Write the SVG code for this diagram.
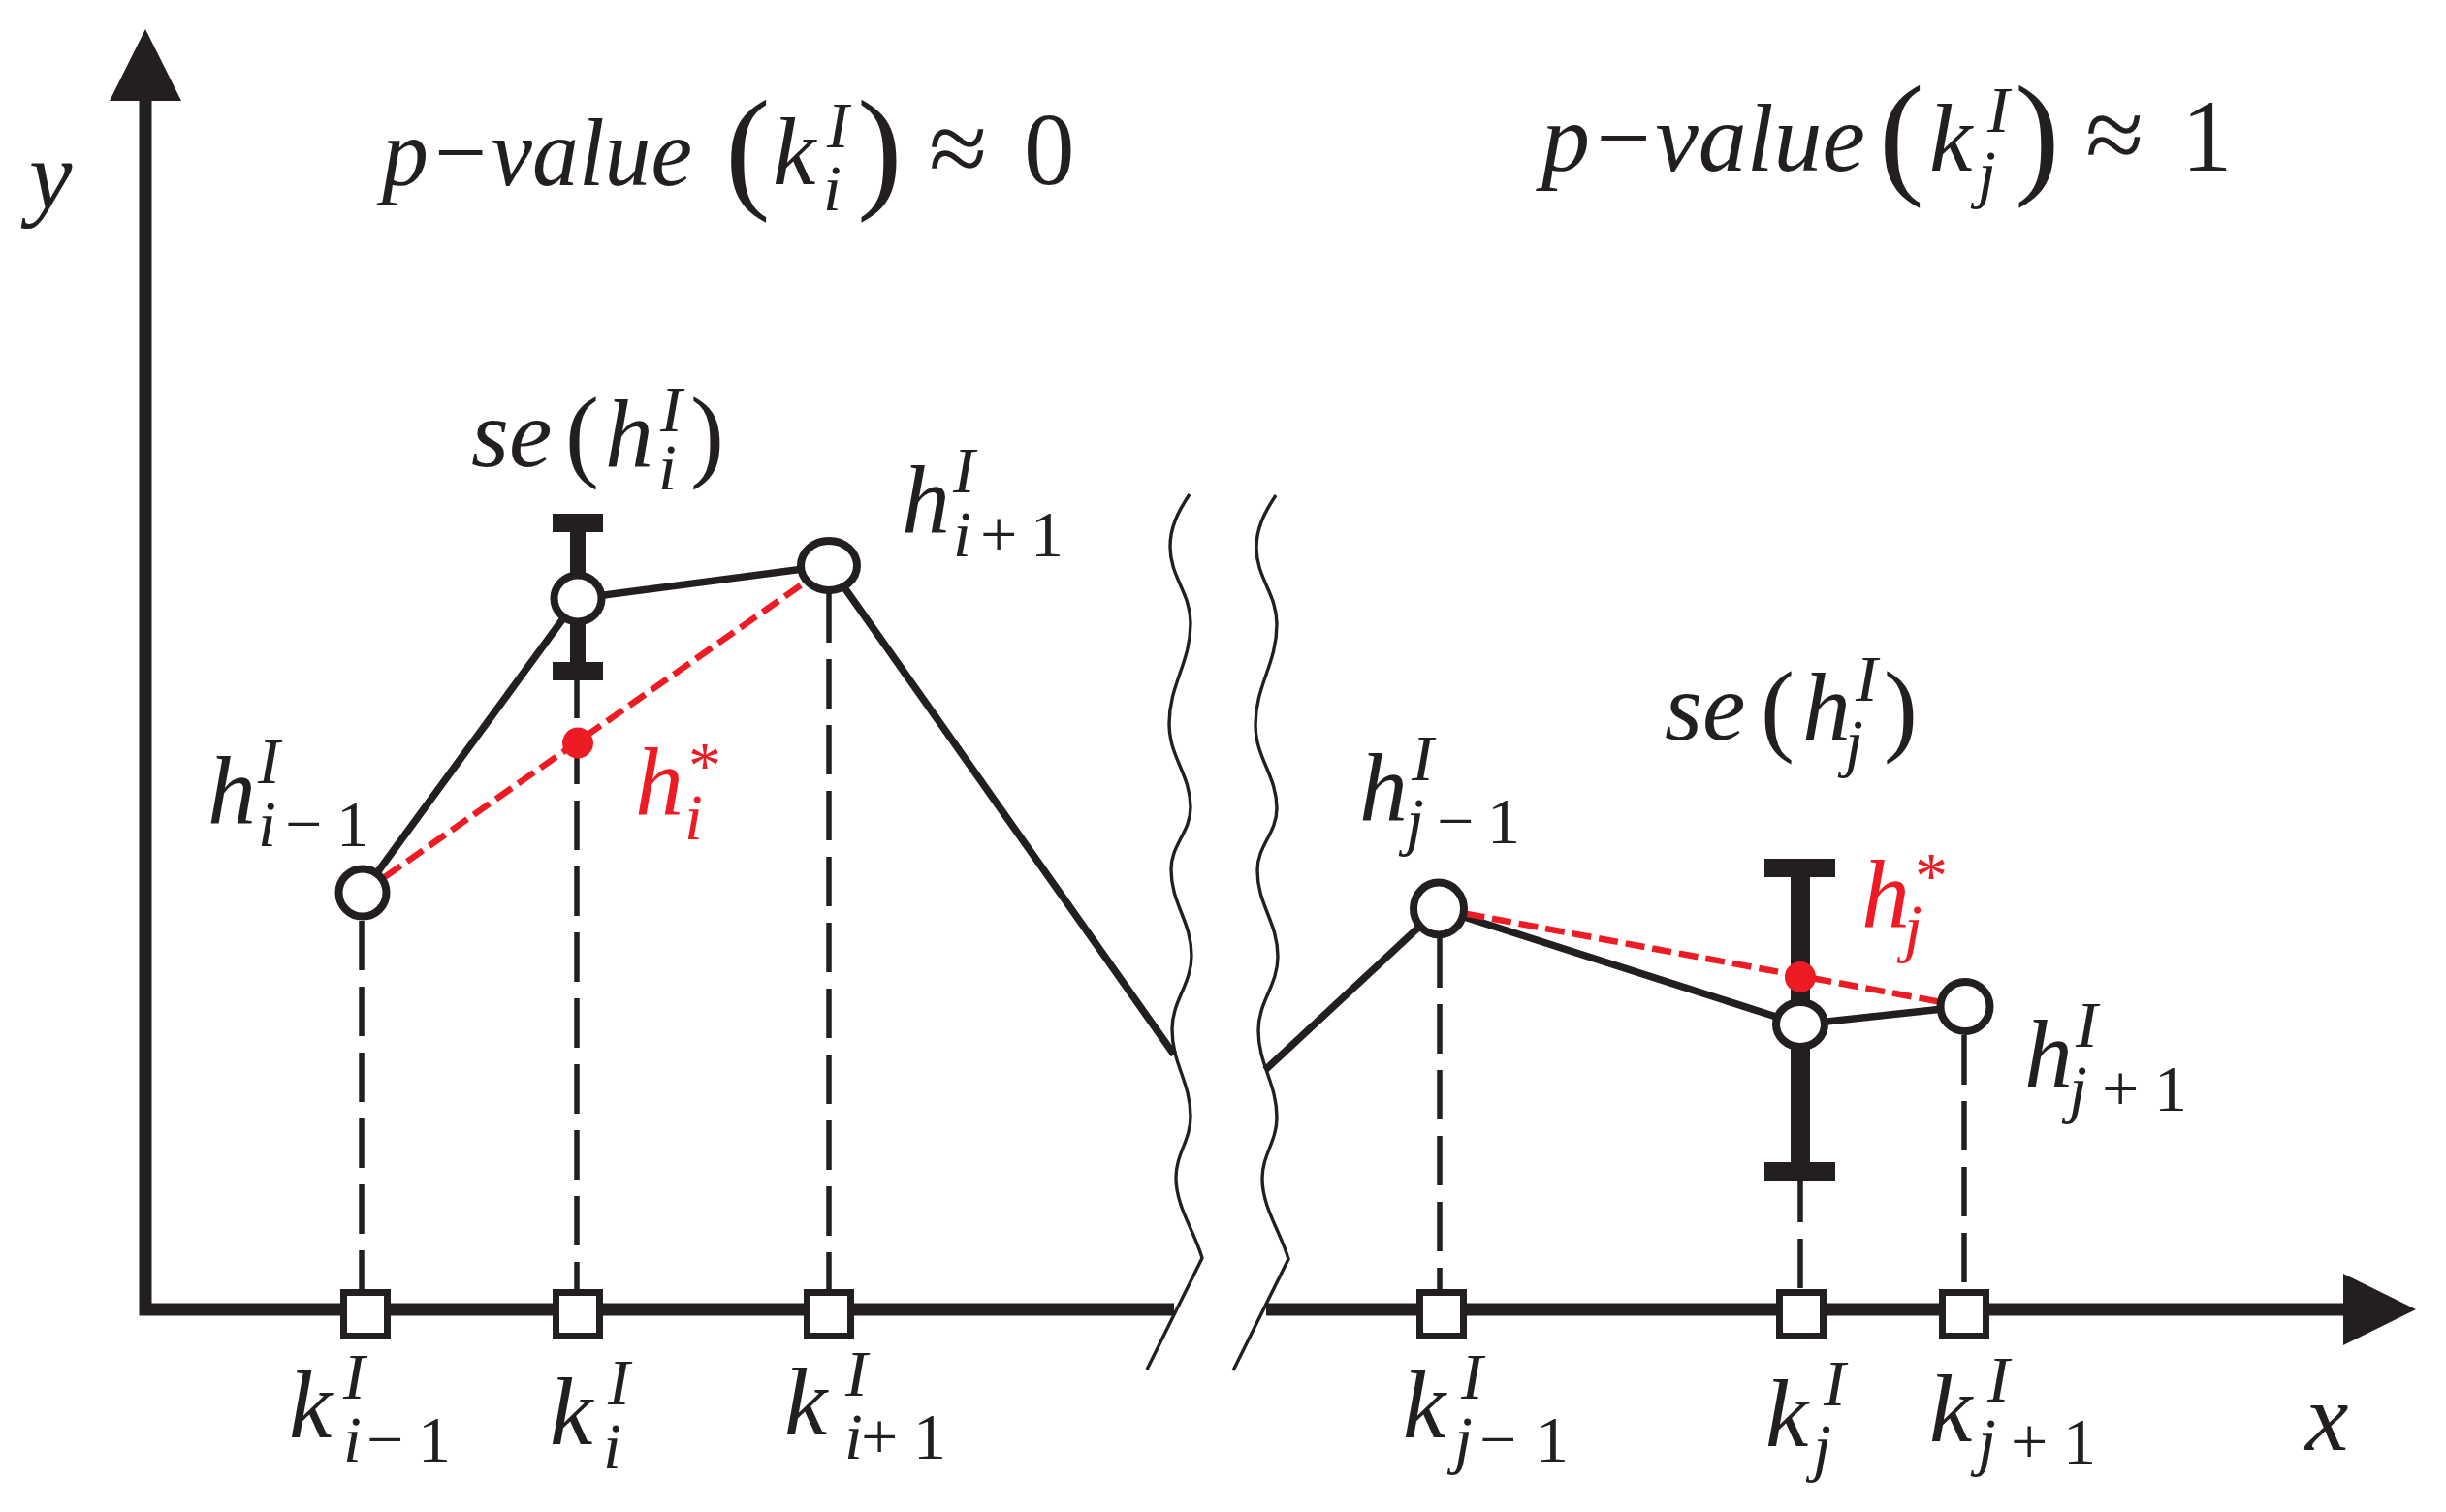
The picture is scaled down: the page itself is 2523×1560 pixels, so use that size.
<svg xmlns="http://www.w3.org/2000/svg" xmlns:xlink="http://www.w3.org/1999/xlink" width="2523" height="1560" viewBox="0 0 2523 1560">
<style>
.t{font-family:"Liberation Serif","Times New Roman",serif;font-style:italic;font-size:100px;fill:#231f20}
.s{font-size:68px}
.u{font-style:normal}
.r{fill:#ed1c24}
.ax{fill:none;stroke:#231f20;stroke-width:13;stroke-linejoin:miter}
.ln{fill:none;stroke:#231f20;stroke-width:7.5;stroke-linecap:butt}
.dl{fill:none;stroke:#231f20;stroke-width:5.5;stroke-dasharray:51 17}
.rd{fill:none;stroke:#ed1c24;stroke-width:6.5;stroke-dasharray:20 8}
.nd{fill:#fff;stroke:#231f20;stroke-width:8}
.sq{fill:#fff;stroke:#231f20;stroke-width:7}
.wv{fill:none;stroke:#231f20;stroke-width:3.4;stroke-linejoin:miter}
.bk{fill:#231f20}
.dot{fill:#ed1c24}
</style>
<defs>
<path id="wave" d="M1227,510 C1215,528 1207,544 1207,564 C1207,596 1228,611 1228,643 C1228,684 1206,706 1206,747 C1206,781 1228,799 1228,833 C1228,859 1208,871 1208,897 C1208,933 1229,950 1229,986 C1229,1016 1209,1032 1209,1062 C1209,1098 1228,1116 1228,1152 C1228,1177 1213,1190 1213,1215 C1213,1245 1232,1270 1240,1298 L1183,1413"/>
</defs>
<rect width="2523" height="1560" fill="#fff"/>
<g id="axes">
<path class="ax" d="M150,100 L150,1351 L1211,1351"/>
<path class="ax" d="M1306,1351 L2420,1351"/>
<polygon class="bk" points="113,104 150,30 187,104"/>
<polygon class="bk" points="2417,1314 2492,1351 2417,1388"/>
<use xlink:href="#wave" class="wv"/>
<use xlink:href="#wave" class="wv" x="89" y="1"/>
</g>
<g id="connectors">
<line class="dl" x1="373" y1="950" x2="373" y2="1334"/>
<line class="dl" x1="595" y1="690" x2="595" y2="1334"/>
<line class="dl" x1="855" y1="612" x2="855" y2="1334"/>
<line class="dl" x1="1485" y1="968" x2="1485" y2="1334"/>
<line class="dl" x1="1857" y1="1210" x2="1857" y2="1334"/>
<line class="dl" x1="2026" y1="1068" x2="2026" y2="1334"/>
<polyline class="ln" points="374,921 596,617.5 855,583.5 1211,1088"/>
<polyline class="ln" points="1305,1104 1484,937.5 1857,1057 2027,1038.5"/>
<line class="rd" x1="374" y1="921" x2="855" y2="583.5"/>
<line class="rd" x1="1484" y1="937.5" x2="2027" y2="1038.5"/>
</g>
<g id="errorbar-i">
<rect class="bk" x="570" y="530" width="52" height="19"/>
<rect class="bk" x="588" y="549" width="16" height="134"/>
<rect class="bk" x="570" y="683" width="52" height="19"/>
</g>
<g id="errorbar-j">
<rect class="bk" x="1820" y="886" width="73" height="19"/>
<rect class="bk" x="1847" y="905" width="20" height="294"/>
<rect class="bk" x="1820" y="1199" width="73" height="19"/>
</g>
<g id="node-h-im1"><ellipse class="nd" cx="374" cy="921" rx="24.5" ry="24.5"/></g>
<g id="node-h-i"><ellipse class="nd" cx="596" cy="617.5" rx="24.5" ry="24"/></g>
<g id="node-h-ip1"><ellipse class="nd" cx="855" cy="583.5" rx="29" ry="25.5"/></g>
<g id="node-h-jm1"><ellipse class="nd" cx="1484" cy="937.5" rx="26" ry="27"/></g>
<g id="node-h-j"><ellipse class="nd" cx="1857" cy="1057" rx="25" ry="23"/></g>
<g id="node-h-jp1"><ellipse class="nd" cx="2027" cy="1038.5" rx="25.5" ry="25.5"/></g>
<g id="node-hstar-i"><circle class="dot" cx="596" cy="766.5" r="16"/></g>
<g id="node-hstar-j"><circle class="dot" cx="1857" cy="1008" r="16"/></g>
<g id="node-k-im1"><rect class="sq" x="354.5" y="1333.5" width="45" height="45"/></g>
<g id="node-k-i"><rect class="sq" x="573.5" y="1333.5" width="45" height="45"/></g>
<g id="node-k-ip1"><rect class="sq" x="832.5" y="1333.5" width="45" height="45"/></g>
<g id="node-k-jm1"><rect class="sq" x="1464.5" y="1333.5" width="45" height="45"/></g>
<g id="node-k-j"><rect class="sq" x="1835.5" y="1333.5" width="45" height="45"/></g>
<g id="node-k-jp1"><rect class="sq" x="2003.5" y="1333.5" width="45" height="45"/></g>
<g id="labels">
<text class="t" x="30" y="215">y</text>
<text class="t" x="2378" y="1496">x</text>
<g id="title-left">
<text class="t" x="394" y="191" textLength="320" lengthAdjust="spacingAndGlyphs">p−value</text>
<text class="t u" x="748" y="200" style="font-size:140px">(</text>
<text class="t" x="797" y="190">k</text>
<text class="t s" x="853" y="152">I</text>
<text class="t s" x="849" y="217">i</text>
<text class="t u" x="884" y="200" style="font-size:140px">)</text>
<text class="t u" x="958" y="190" style="font-size:110px">≈</text>
<text class="t u" x="1056" y="190" style="font-size:105px">0</text>
</g>
<g id="title-right">
<text class="t" x="1590" y="176" textLength="334" lengthAdjust="spacingAndGlyphs">p−value</text>
<text class="t u" x="1938" y="185" style="font-size:140px">(</text>
<text class="t" x="1990" y="176">k</text>
<text class="t s" x="2050" y="136">I</text>
<text class="t s" x="2040" y="202">j</text>
<text class="t u" x="2078" y="185" style="font-size:140px">)</text>
<text class="t u" x="2151" y="176" style="font-size:110px">≈</text>
<text class="t u" x="2250" y="176" style="font-size:105px">1</text>
</g>
<g id="label-se-i">
<text class="t" x="486" y="481">se</text>
<text class="t u" x="583" y="483" style="font-size:105px">(</text>
<text class="t" x="624" y="481">h</text>
<text class="t s" x="681" y="445">I</text>
<text class="t s" x="679" y="505">i</text>
<text class="t u" x="712" y="483" style="font-size:105px">)</text>
</g>
<g id="label-se-j">
<text class="t" x="1717" y="763">se</text>
<text class="t u" x="1816" y="766" style="font-size:105px">(</text>
<text class="t" x="1859" y="763">h</text>
<text class="t s" x="1914" y="723">I</text>
<text class="t s" x="1903" y="789">j</text>
<text class="t u" x="1943" y="766" style="font-size:105px">)</text>
</g>
<g id="label-h-im1">
<text class="t" x="214" y="849">h</text>
<text class="t s" x="266" y="808">I</text>
<text class="t s" x="266" y="873">i</text>
<text class="t s u" x="294" y="873">−</text>
<text class="t s u" x="347" y="873">1</text>
</g>
<g id="label-h-ip1">
<text class="t" x="930" y="549">h</text>
<text class="t s" x="983" y="508">I</text>
<text class="t s" x="983" y="574">i</text>
<text class="t s u" x="1011" y="574">+</text>
<text class="t s u" x="1063" y="574">1</text>
</g>
<g id="label-h-jm1">
<text class="t" x="1402" y="846">h</text>
<text class="t s" x="1456" y="805">I</text>
<text class="t s" x="1450" y="870">j</text>
<text class="t s u" x="1482" y="870">−</text>
<text class="t s u" x="1534" y="870">1</text>
</g>
<g id="label-h-jp1">
<text class="t" x="2088" y="1121">h</text>
<text class="t s" x="2141" y="1080">I</text>
<text class="t s" x="2134" y="1146">j</text>
<text class="t s u" x="2168" y="1146">+</text>
<text class="t s u" x="2222" y="1146">1</text>
</g>
<g id="label-hstar-i">
<text class="t r" x="655" y="840">h</text>
<text class="t s u r" x="710" y="812">*</text>
<text class="t s r" x="706" y="866">i</text>
</g>
<g id="label-hstar-j">
<text class="t r" x="1920" y="956">h</text>
<text class="t s u r" x="1975" y="926">*</text>
<text class="t s r" x="1964" y="980">j</text>
</g>
<g id="label-k-im1">
<text class="t" x="298" y="1483">k</text>
<text class="t s" x="354" y="1443">I</text>
<text class="t s" x="354" y="1508">i</text>
<text class="t s u" x="378" y="1508">−</text>
<text class="t s u" x="431" y="1508">1</text>
</g>
<g id="label-k-i">
<text class="t" x="567" y="1490">k</text>
<text class="t s" x="627" y="1449">I</text>
<text class="t s" x="622" y="1515">i</text>
</g>
<g id="label-k-ip1">
<text class="t" x="809" y="1480">k</text>
<text class="t s" x="872" y="1440">I</text>
<text class="t s" x="871" y="1505">i</text>
<text class="t s u" x="888" y="1505">+</text>
<text class="t s u" x="942" y="1505">1</text>
</g>
<g id="label-k-jm1">
<text class="t" x="1447" y="1483">k</text>
<text class="t s" x="1507" y="1443">I</text>
<text class="t s" x="1500" y="1508">j</text>
<text class="t s u" x="1526" y="1508">−</text>
<text class="t s u" x="1584" y="1508">1</text>
</g>
<g id="label-k-j">
<text class="t" x="1821" y="1492">k</text>
<text class="t s" x="1881" y="1450">I</text>
<text class="t s" x="1870" y="1516">j</text>
</g>
<g id="label-k-jp1">
<text class="t" x="1990" y="1487">k</text>
<text class="t s" x="2050" y="1446">I</text>
<text class="t s" x="2040" y="1510">j</text>
<text class="t s u" x="2074" y="1510">+</text>
<text class="t s u" x="2128" y="1510">1</text>
</g>
</g>
</svg>
